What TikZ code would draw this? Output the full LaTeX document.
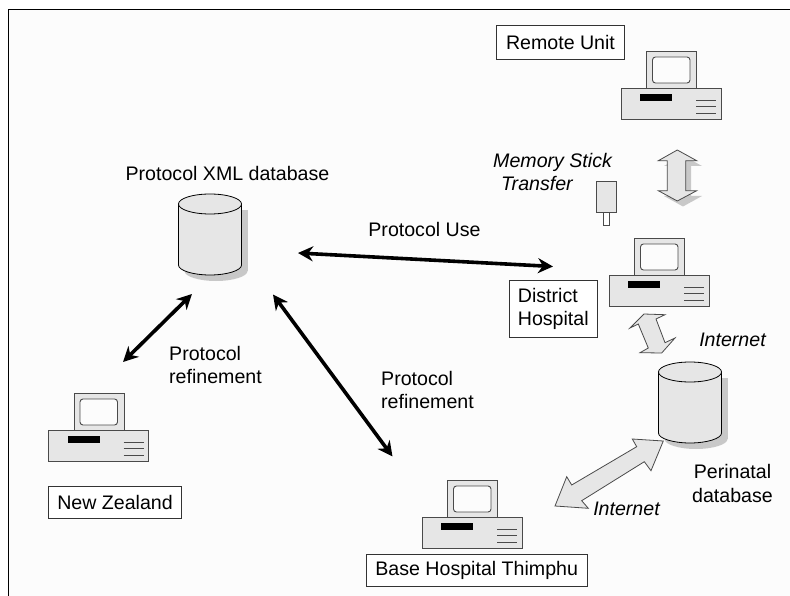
\documentclass[tikz,border=0pt]{standalone}
\usepackage{fontspec}
\setmainfont{Liberation Sans}
\usetikzlibrary{arrows.meta}
\definecolor{boxgray}{HTML}{E6E6E6}
\definecolor{shadegray}{HTML}{C8C8C8}
\definecolor{edgegray}{HTML}{4A4A4A}
\definecolor{paper}{HTML}{FCFCFC}
\tikzset{
	txt/.style={inner sep=0pt,font=\fontsize{19.6}{23.5}\selectfont},
	itxt/.style={txt,font=\fontsize{19.6}{23.5}\selectfont\itshape},
	lblbox/.style={draw=black!80,line width=0.8pt,fill=white,inner sep=0pt,font=\fontsize{19.6}{23.5}\selectfont},
	link/.style={<->,line width=3.6pt},
	blockarrow/.style={draw=edgegray,line width=0.8pt,fill=boxgray,line join=miter},
	pics/computer/.style={code={
		\draw[draw=edgegray,line width=0.8pt,fill=boxgray] (25.5,-37) rectangle (75.5,0);
		\draw[draw=edgegray,line width=0.9pt,fill=paper,rounded corners=3pt] (31.5,-31) rectangle (69,-5);
		\draw[draw=edgegray,line width=0.8pt,fill=boxgray] (0,0) rectangle (100,31.5);
		\fill[black] (19,6) rectangle (51,13);
		\draw[edgegray,line width=0.7pt] (75,12)--(95,12) (75,18.5)--(95,18.5) (75,25)--(95,25);
	}},
	pics/dbcyl/.style={code={
		\fill[shadegray] (-25.5,6) -- (-25.5,67) -- (37.5,67) -- (37.5,6) -- cycle;
		\fill[shadegray] (-25.5,67) .. controls (-25.5,72.5) and (-11,77) .. (6,77) .. controls (23,77) and (37.5,72.5) .. (37.5,67) -- cycle;
		\draw[draw=black,line width=0.8pt,fill=boxgray] (-31.5,0) -- (-31.5,61) .. controls (-31.5,66.5) and (-17,71) .. (0,71) .. controls (17,71) and (31.5,66.5) .. (31.5,61) -- (31.5,0);
		\draw[draw=black,line width=0.8pt,fill=boxgray] (0,0) ellipse [x radius=31.5pt,y radius=10pt];
	}}
}
\begin{document}
\begin{tikzpicture}[>={Stealth[length=15pt,width=15pt]},x=1pt,y=-1pt]
	\useasboundingbox (0,0) rectangle (790,596);
	\fill[white] (0,0) rectangle (790,596);
	\fill[paper] (8,9) rectangle (790,596);
	\draw[line width=0.8pt] (8,596) -- (8,9) -- (790,9);
	% computers and databases
	\pic at (621,88) {computer};
	\pic at (609,275) {computer};
	\pic at (48.5,430) {computer};
	\pic at (422,517) {computer};
	\pic at (210,204) {dbcyl};
	\pic at (690,372) {dbcyl};
	% memory stick
	\draw[draw=edgegray,line width=0.8pt,fill=white] (603,212.7) rectangle (609.5,225);
	\draw[draw=edgegray,line width=0.8pt,fill=boxgray] (596.7,181.7) rectangle (616,212.7);
	% labels in boxes
	\node[lblbox,minimum width=127.5pt,minimum height=33.5pt] (remote) at (560.5,42.3) {Remote Unit};
	\node[lblbox,minimum width=88pt,minimum height=56.5pt,align=left] (district) at (553.3,309) {District\\Hospital};
	\node[lblbox,minimum width=221pt,minimum height=32.5pt] (base) at (476.7,570.5) {Base Hospital Thimphu};
	\node[lblbox,minimum width=133.5pt,minimum height=31.5pt] (nz) at (115,502.5) {New Zealand};
	% free labels
	\node[txt] (xmldb) at (227.5,173) {Protocol XML database};
	\node[txt] (use) at (424.5,229) {Protocol Use};
	\node[txt,anchor=west,align=left] (refineA) at (169,365) {Protocol\\refinement};
	\node[txt,anchor=west,align=left] (refineB) at (381,390) {Protocol\\refinement};
	\node[txt,align=center] (perinatal) at (732.5,483.5) {Perinatal\\database};
	\node[itxt,anchor=west,align=left] (stick) at (493,172) {Memory Stick\\\hspace*{8pt}Transfer};
	\node[itxt] (netA) at (732.5,340) {Internet};
	\node[itxt] (netB) at (626.5,509) {Internet};
	% black arrows
	\coordinate (useL) at (298,253);
	\coordinate (useR) at (553,266.5);
	\coordinate (nzA) at (123,362);
	\coordinate (nzB) at (192,294);
	\coordinate (baseA) at (273,294.5);
	\coordinate (baseB) at (392.5,456.5);
	\draw[link] (useL) -- (useR);
	\draw[link] (nzA) -- (nzB);
	\draw[link] (baseA) -- (baseB);
	% block arrows
	\fill[shadegray] (683,155.5)--(702,166)--(691,166)--(691,196)--(702,196)--(683,206.5)--(664,196)--(673,196)--(673,166)--(664,166)--cycle;
	\draw[blockarrow] (677.3,150)--(696.7,160.7)--(685.7,160.7)--(685.7,190.7)--(696.7,190.7)--(677.3,201)--(658.3,190.7)--(667.3,190.7)--(667.3,160.7)--(658.3,160.7)--cycle;
	\draw[blockarrow] (630,328)--(644,314)--(665,314.7)--(656,319)--(665,342.7)--(675,338)--(661.7,353)--(640,352.7)--(648.3,348)--(638.3,324)--cycle;
	\draw[blockarrow] (663.3,441)--(632.3,439)--(636.7,446.7)--(571.7,485)--(566.7,476.7)--(555,506)--(588.3,508.3)--(581.7,500.7)--(644.3,461.7)--(651,470.7)--cycle;
\end{tikzpicture}
\end{document}
